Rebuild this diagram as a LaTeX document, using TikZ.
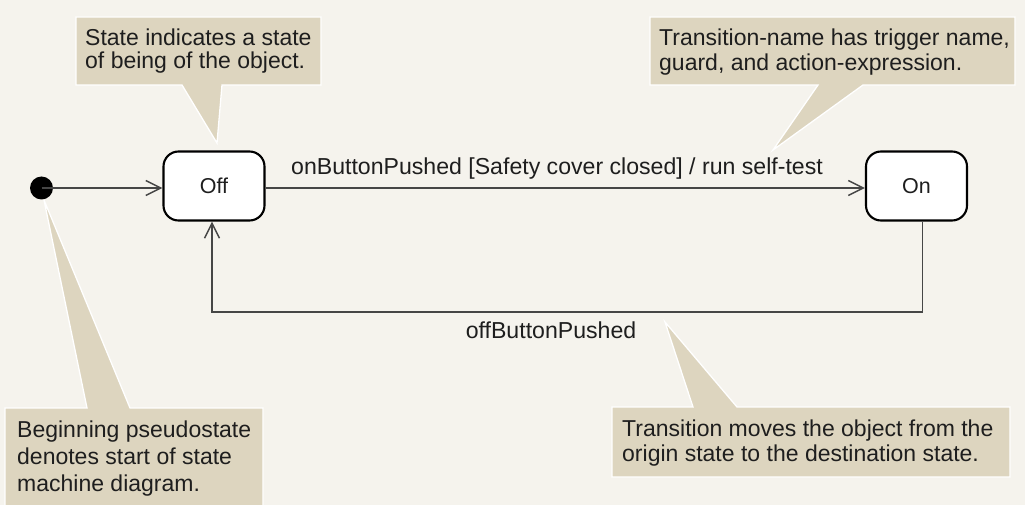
\documentclass[tikz,border=0pt]{standalone}
\usepackage{fontspec}
\setmainfont{Liberation Sans}
\usetikzlibrary{arrows.meta,calc}
\definecolor{bg}{RGB}{245,243,237}
\definecolor{tanfill}{RGB}{221,213,191}
\definecolor{ln}{RGB}{70,70,70}
\definecolor{txt}{RGB}{30,30,30}
\begin{document}
\begin{tikzpicture}[x=1pt,y=-1pt,
  state/.style={draw=black, line width=2.1pt, fill=white, rounded corners=15pt,
    minimum width=101pt, minimum height=69pt, inner sep=0pt,
    font=\fontsize{21.5}{24}\selectfont, text=txt},
  note/.style={fill=tanfill, draw=white, line width=1.3pt, line join=miter},
  notetext/.style={anchor=north west, align=left, inner sep=0pt, text=txt},
  trans/.style={draw=ln, line width=1.5pt, -{Straight Barb[length=15pt,width=15pt,line width=1.5pt]}},
  lbl/.style={inner sep=0pt, text=txt, font=\fontsize{23.1}{26}\selectfont, anchor=base}]
\useasboundingbox (0,0) rectangle (1025,505);
\fill[bg] (0,0) rectangle (1025,505);

% callouts
\draw[note] (76,17) -- (321,17) -- (321,85) -- (222,85) -- (217,143) -- (182,85) -- (76,85) -- cycle;
\node[notetext, font=\fontsize{23}{23.5}\selectfont] (nstate) at (85,28.5) {State indicates a state\\of being of the object.};

\draw[note] (650,17) -- (1015,17) -- (1015,85) -- (863,85) -- (773,150) -- (818,85) -- (650,85) -- cycle;
\node[notetext, font=\fontsize{23}{25}\selectfont] (ntrans) at (659,28.5) {Transition-name has trigger name,\\guard, and action-expression.};

\draw[note] (5,408) -- (87,408) -- (44,200) -- (130,408) -- (263,408) -- (263,515) -- (5,515) -- cycle;
\node[notetext, font=\fontsize{23}{27}\selectfont] (nbegin) at (17,421) {Beginning pseudostate\\denotes start of state\\machine diagram.};

\draw[note] (612,407) -- (693,407) -- (665,322) -- (737,407) -- (1010,407) -- (1010,477) -- (612,477) -- cycle;
\node[notetext, font=\fontsize{23}{25}\selectfont] (nmove) at (622,420) {Transition moves the object from the\\origin state to the destination state.};

% states
\coordinate (init) at (41.5,188);
\fill[black] (init) circle (11.5);
\node[state] (Off) at (214,186) {Off};
\node[state] (On) at (916.5,186) {On};

% transitions
\draw[trans] (init) -- (Off.west |- init);
\draw[trans] (Off.east |- init) -- (On.west |- init);
\node[lbl] (l1) at (557,175) {onButtonPushed [Safety cover closed] / run self-test};
\coordinate (onb) at ($(On.south)+(6,0)$);
\coordinate (offb) at ($(Off.south)+(-2,0)$);
\draw[trans] (onb) -- (onb |- 0,312) -- (offb |- 0,312) -- (offb);
\node[lbl] (l2) at (551,338) {offButtonPushed};
\end{tikzpicture}
\end{document}
